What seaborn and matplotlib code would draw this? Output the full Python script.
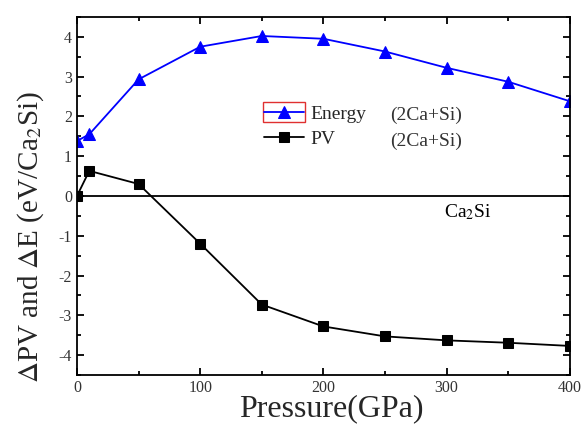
import matplotlib
matplotlib.use("Agg")
import matplotlib.pyplot as plt
import seaborn as sns
import pandas as pd
from matplotlib.ticker import MultipleLocator
from matplotlib.patches import Rectangle

pressure = [0, 10, 50, 100, 150, 200, 250, 300, 350, 400]
energy = [1.38, 1.55, 2.93, 3.75, 4.02, 3.95, 3.63, 3.22, 2.87, 2.38]
pv = [0.0, 0.63, 0.30, -1.20, -2.73, -3.28, -3.53, -3.63, -3.69, -3.77]

sns.set_theme(style="ticks")
plt.rcParams['font.family'] = ['Liberation Serif', 'DejaVu Serif']
plt.rcParams['mathtext.fontset'] = 'stix'
plt.rcParams['axes.unicode_minus'] = False

fig = plt.figure(figsize=(5.85, 4.33), dpi=100)
ax = fig.add_axes([0.1316, 0.134, 0.974 - 0.1316, 0.961 - 0.134])

df = pd.DataFrame({"P": pressure, "E": energy, "PV": pv})
sns.lineplot(data=df, x="P", y="E", ax=ax, color="#0000ff", marker="^",
             markersize=8, markeredgecolor="#0000ff", linewidth=1.3, label="Energy")
sns.lineplot(data=df, x="P", y="PV", ax=ax, color="black", marker="s",
             markersize=6.5, markeredgecolor="black", linewidth=1.3, label="PV")
ax.axhline(0, color="black", linewidth=1.3, zorder=1)

ax.set_xlim(0, 400)
ax.set_ylim(-4.5, 4.5)
ax.xaxis.set_major_locator(MultipleLocator(100))
ax.xaxis.set_minor_locator(MultipleLocator(50))
ax.yaxis.set_major_locator(MultipleLocator(1))
ax.yaxis.set_minor_locator(MultipleLocator(0.5))
ax.tick_params(which="both", direction="in", top=True, right=True, width=1.3,
               labelsize=11.5, colors="black", labelcolor="#333333")
ax.tick_params(which="major", length=5)
ax.tick_params(which="minor", length=3)
for s in ax.spines.values():
    s.set_linewidth(1.3)
    s.set_color("black")

ax.set_xlabel("Pressure(GPa)", fontsize=23)
ax.xaxis.set_label_coords(0.517, -0.055)
ax.set_ylabel(r"$\Delta$PV and $\Delta$E (eV/Ca$_2$Si)", fontsize=21)
ax.yaxis.set_label_coords(-0.062, 0.385)

leg = ax.legend(loc="upper left", bbox_to_anchor=(0.363, 0.775), frameon=False,
                fontsize=14, handlelength=2.1, handletextpad=0.3,
                borderaxespad=0, labelspacing=0.4)
ax.add_patch(Rectangle((0.377, 0.707), 0.085, 0.056, transform=ax.transAxes,
                       fill=False, edgecolor="#e03030", linewidth=1.0, zorder=5))
ax.text(254, 2.03, "(2Ca+Si)", fontsize=14, color="#333333", va="center")
ax.text(254, 1.38, "(2Ca+Si)", fontsize=14, color="#333333", va="center")
ax.text(298, -0.4, "Ca$_2$Si", fontsize=14, color="black", va="center")

fig.savefig("out.png", dpi=100)
